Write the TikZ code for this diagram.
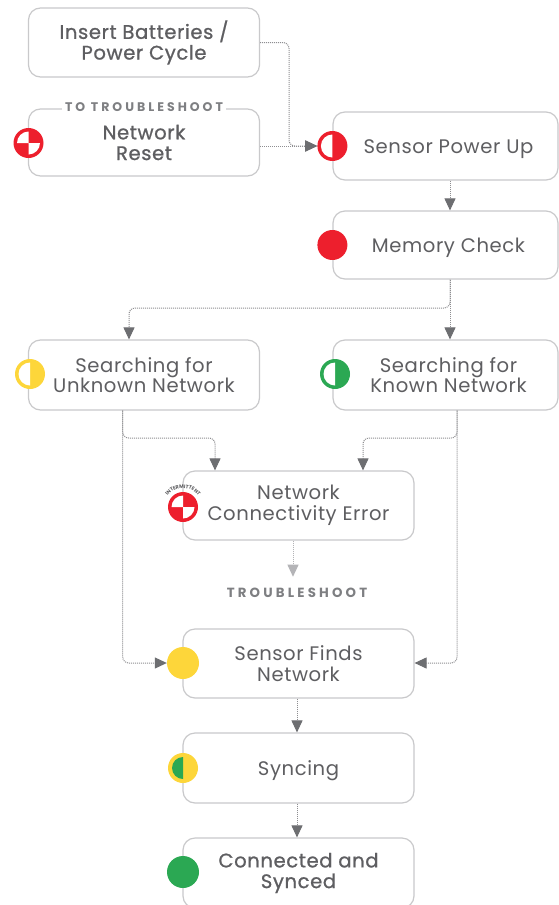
\documentclass[tikz,border=0pt]{standalone}
\usepackage{fontspec}
\setmainfont{Poppins}[LetterSpace=3]
\newfontfamily\medfont[LetterSpace=3,FakeBold=0.9]{Poppins}
\newfontfamily\capsfont[LetterSpace=24]{Poppins}
\usetikzlibrary{arrows.meta,calc,decorations.text}
\definecolor{boxline}{HTML}{C9C9CB}
\definecolor{txt}{HTML}{5E5E61}
\definecolor{captxt}{HTML}{7E7F82}
\definecolor{dotc}{HTML}{8E8E91}
\definecolor{tipc}{HTML}{6D6E71}
\definecolor{lightc}{HTML}{B4B4B7}
\definecolor{ired}{HTML}{ED1F2D}
\definecolor{iyellow}{HTML}{FDD63A}
\definecolor{igreen}{HTML}{2BA853}
\newcommand\lowtext[1]{\raisebox{-3pt}[\height][\depth]{#1}}
\newcommand\halficon[2]{%
  \fill[#2] (#1.center) circle[radius=15pt];
  \begin{scope}
    \clip (#1.center) rectangle ++(-20pt,20pt) (#1.center) rectangle ++(-20pt,-20pt);
    \fill[white] (#1.center) circle[radius=11.5pt];
  \end{scope}}
\newcommand\quadicon[1]{%
  \fill[ired] (#1.center) circle[radius=15pt];
  \begin{scope}
    \clip (#1.center) rectangle ++(-20pt,20pt) (#1.center) rectangle ++(20pt,-20pt);
    \fill[white] (#1.center) circle[radius=11.5pt];
  \end{scope}}
\begin{document}
\begin{tikzpicture}[x=1pt,y=-1pt,
  box/.style={draw=boxline, line width=1.2pt, rounded corners=12pt, fill=white,
    text=txt, align=center, font=\fontsize{19.6}{20.7}\selectfont, inner sep=0pt},
  medtext/.style={font=\medfont\fontsize{19.6}{20.7}\selectfont},
  lbox/.style={box, minimum width=231pt, minimum height=69pt},
  rbox/.style={box, minimum width=225pt, minimum height=69pt},
  conn/.style={draw=dotc, line width=1pt, dash pattern=on 1pt off 1pt,
    -{Triangle[length=12pt,width=11pt,color=tipc]}},
  lightconn/.style={draw=lightc, line width=1pt, dash pattern=on 1pt off 1pt,
    -{Triangle[length=12pt,width=11pt,color=lightc]}},
  icon/.style={circle, minimum size=30pt, inner sep=0pt},
  caps/.style={text=captxt, font=\capsfont\bfseries\fontsize{13.3}{14}\selectfont}
]
\useasboundingbox (0,0) rectangle (559,905);
\fill[white] (0,0) rectangle (559,905);
% boxes
\node[lbox, medtext] (ins) at (144,42.5) {Insert Batteries /\\Power Cycle};
\node[lbox, medtext, minimum height=67pt] (reset) at (144,142.5) {Network\\Reset};
\node[caps, fill=white, inner xsep=3pt, inner ysep=1pt, font=\capsfont\bfseries\fontsize{12.5}{13}\selectfont] (tts) at (144,107.5) {TO TROUBLESHOOT};
\node[rbox, minimum height=68pt] (spu) at (445.5,146) {\hspace*{6pt}\lowtext{Sensor Power Up}};
\node[rbox, minimum height=68pt] (mem) at (445.5,245) {\hspace*{6pt}\lowtext{Memory Check}};
\node[lbox, minimum height=70pt] (unk) at (144,375) {Searching for\\Unknown Network};
\node[rbox, minimum height=70pt] (kno) at (445.5,375) {\hspace*{6pt}Searching for\\\hspace*{6pt}Known Network};
\node[lbox] (nce) at (298.5,505.5) {Network\\Connectivity Error};
\node[caps] (ts) at (297,593) {TROUBLESHOOT};
\node[lbox] (sfn) at (298.5,663.5) {Sensor Finds\\Network};
\node[lbox, minimum height=70pt] (syn) at (298.5,768) {\lowtext{Syncing}};
\node[lbox, medtext, minimum height=70pt] (con) at (298.5,873) {Connected and\\Synced};
% icons
\node[icon] (reseti) at (28.5,143) {};
\node[icon] (spui) at (spu.west) {};
\node[icon] (memi) at (mem.west) {};
\node[icon] (unki) at (30,374) {};
\node[icon] (knoi) at (335,374) {};
\node[icon] (ncei) at (183,507) {};
\node[icon, minimum size=32pt] (sfni) at (183,663) {};
\node[icon] (syni) at (183,768) {};
\node[icon, minimum size=32pt] (coni) at (183,872) {};
\quadicon{reseti}
\halficon{spui}{ired}
\fill[ired] (memi.center) circle[radius=15pt];
\halficon{unki}{iyellow}
\halficon{knoi}{igreen}
\quadicon{ncei}
\path[decorate, decoration={text along path, text align=center,
  text={|\fontsize{5}{5}\selectfont\bfseries\color{txt}|INTERMITTENT}}]
  ($(ncei.center)+(165:19pt)$) arc[start angle=165, end angle=15, radius=19pt];
\fill[iyellow] (sfni.center) circle[radius=16pt];
\fill[iyellow] (syni.center) circle[radius=15pt];
\begin{scope}
  \clip (syni.center) rectangle ++(-20pt,20pt) (syni.center) rectangle ++(-20pt,-20pt);
  \fill[igreen] (syni.center) circle[radius=11pt];
\end{scope}
\fill[igreen] (coni.center) circle[radius=16pt];
% connector coordinates
\coordinate (jA) at (289,146);
\coordinate (cR) at (450,0);
\coordinate (split) at (450,308);
\coordinate (cL) at (129,308);
\coordinate (uB) at (122.7,438);
\coordinate (uE) at (215,438);
\coordinate (uD) at (122.7,663);
\coordinate (kB) at (457,438);
\coordinate (kE) at (363,438);
\coordinate (kD) at (457,663);
\coordinate (cT) at (293,0);
\coordinate (cM) at (297,0);
% connectors
\draw[conn, rounded corners=6pt] (ins.east) -| (jA) -- (spui.west);
\draw[conn] (reset.east |- spui.west) -- (spui.west);
\draw[conn] (spu.south -| cR) -- (mem.north -| cR);
\draw[conn, rounded corners=6pt] (mem.south -| cR) -- (split) -- (cL) -- (unk.north -| cL);
\draw[conn] (mem.south -| cR) -- (kno.north -| cR);
\draw[conn, rounded corners=6pt] (unk.south -| uB) -- (uB) -- (uE) -- (nce.north -| uE);
\draw[conn, rounded corners=6pt] (unk.south -| uB) -- (uD) -- (sfni.west);
\draw[conn, rounded corners=6pt] (kno.south -| kB) -- (kB) -- (kE) -- (nce.north -| kE);
\draw[conn, rounded corners=6pt] (kno.south -| kB) -- (kD) -- (sfn.east |- kD);
\draw[lightconn, shorten >=8pt] (nce.south -| cT) -- (ts.north -| cT);
\draw[conn] (sfn.south -| cM) -- (syn.north -| cM);
\draw[conn] (syn.south -| cM) -- (con.north -| cM);
\end{tikzpicture}
\end{document}
